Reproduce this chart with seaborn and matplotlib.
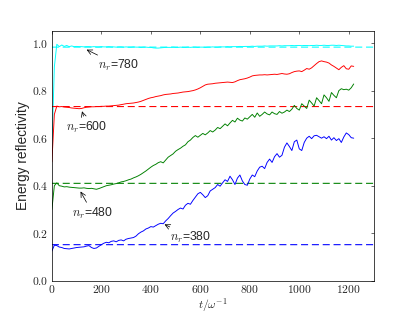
import numpy as np
import pandas as pd
import matplotlib
matplotlib.use("Agg")
import matplotlib.pyplot as plt
import seaborn as sns
from matplotlib.ticker import FuncFormatter

# sampling times of the reflectivity curves
t = np.arange(0, 1230, 10)

# n_r = 780 (cyan)
r780 = [0.55, 0.90, 0.995, 0.985, 0.992, 0.986, 0.990, 0.985, 0.988, 0.985,
        0.986, 0.985, 0.985, 0.984, 0.985, 0.985, 0.984, 0.985, 0.984, 0.984,
        0.985, 0.984, 0.984, 0.985, 0.984, 0.984, 0.983, 0.984, 0.984, 0.983,
        0.984, 0.983, 0.983, 0.984, 0.983, 0.983, 0.982, 0.983, 0.983, 0.982,
        0.982, 0.980, 0.979, 0.979, 0.980, 0.981, 0.982, 0.982, 0.982, 0.983,
        0.982, 0.982, 0.983, 0.982, 0.982, 0.983, 0.982, 0.983, 0.983, 0.982,
        0.983, 0.983, 0.982, 0.983, 0.983, 0.984, 0.983, 0.983, 0.984, 0.984,
        0.984, 0.985, 0.984, 0.985, 0.985, 0.985, 0.986, 0.985, 0.986, 0.986,
        0.986, 0.987, 0.986, 0.987, 0.987, 0.987, 0.988, 0.987, 0.988, 0.988,
        0.988, 0.988, 0.989, 0.988, 0.989, 0.989, 0.989, 0.990, 0.989, 0.990,
        0.990, 0.989, 0.990, 0.990, 0.989, 0.990, 0.990, 0.991, 0.990, 0.990,
        0.991, 0.990, 0.990, 0.991, 0.991, 0.990, 0.991, 0.990, 0.989, 0.988,
        0.988, 0.987, 0.987]

# n_r = 600 (red)
r600 = [0.50, 0.70, 0.735, 0.732, 0.733, 0.731, 0.730, 0.729, 0.727, 0.726,
        0.725, 0.724, 0.725, 0.728, 0.730, 0.731, 0.732, 0.732, 0.733, 0.733,
        0.734, 0.734, 0.735, 0.735, 0.736, 0.737, 0.738, 0.739, 0.741, 0.743,
        0.745, 0.746, 0.747, 0.748, 0.750, 0.752, 0.755, 0.759, 0.763, 0.767,
        0.770, 0.772, 0.775, 0.777, 0.779, 0.782, 0.784, 0.785, 0.786, 0.788,
        0.789, 0.790, 0.792, 0.794, 0.795, 0.796, 0.798, 0.800, 0.803, 0.807,
        0.812, 0.818, 0.824, 0.827, 0.828, 0.829, 0.831, 0.832, 0.833, 0.834,
        0.835, 0.836, 0.835, 0.834, 0.837, 0.842, 0.846, 0.848, 0.850, 0.853,
        0.857, 0.862, 0.864, 0.865, 0.866, 0.866, 0.867, 0.866, 0.867, 0.868,
        0.869, 0.868, 0.870, 0.872, 0.870, 0.869, 0.871, 0.876, 0.880, 0.882,
        0.883, 0.880, 0.886, 0.893, 0.890, 0.896, 0.905, 0.914, 0.922, 0.925,
        0.922, 0.920, 0.916, 0.908, 0.902, 0.895, 0.888, 0.898, 0.905, 0.892,
        0.890, 0.904, 0.902]

# n_r = 480 (green)
r480 = [0.30, 0.40, 0.412, 0.400, 0.398, 0.395, 0.396, 0.394, 0.393, 0.392,
        0.391, 0.390, 0.390, 0.391, 0.389, 0.388, 0.389, 0.387, 0.385, 0.388,
        0.392, 0.396, 0.400, 0.402, 0.404, 0.407, 0.409, 0.412, 0.416, 0.418,
        0.421, 0.425, 0.428, 0.433, 0.437, 0.442, 0.448, 0.455, 0.462, 0.470,
        0.478, 0.485, 0.490, 0.497, 0.501, 0.496, 0.508, 0.520, 0.527, 0.534,
        0.545, 0.552, 0.558, 0.566, 0.572, 0.585, 0.592, 0.603, 0.611, 0.604,
        0.612, 0.620, 0.614, 0.622, 0.632, 0.626, 0.634, 0.645, 0.640, 0.650,
        0.660, 0.652, 0.664, 0.675, 0.668, 0.684, 0.676, 0.672, 0.685, 0.680,
        0.690, 0.700, 0.688, 0.706, 0.692, 0.700, 0.710, 0.702, 0.698, 0.710,
        0.703, 0.700, 0.712, 0.705, 0.710, 0.718, 0.712, 0.722, 0.738, 0.725,
        0.718, 0.745, 0.735, 0.725, 0.760, 0.748, 0.735, 0.770, 0.758, 0.745,
        0.782, 0.770, 0.755, 0.792, 0.780, 0.770, 0.800, 0.808, 0.804, 0.806,
        0.802, 0.812, 0.828]

# n_r = 380 (blue)
r380 = [0.125, 0.150, 0.148, 0.142, 0.140, 0.136, 0.135, 0.134, 0.136, 0.138,
        0.140, 0.141, 0.142, 0.143, 0.146, 0.148, 0.140, 0.136, 0.138, 0.145,
        0.152, 0.158, 0.162, 0.160, 0.166, 0.168, 0.164, 0.170, 0.172, 0.168,
        0.175, 0.178, 0.180, 0.182, 0.188, 0.198, 0.205, 0.210, 0.218, 0.222,
        0.228, 0.226, 0.232, 0.238, 0.242, 0.240, 0.252, 0.262, 0.274, 0.285,
        0.292, 0.300, 0.306, 0.302, 0.318, 0.326, 0.322, 0.338, 0.352, 0.366,
        0.372, 0.362, 0.350, 0.358, 0.378, 0.385, 0.392, 0.405, 0.398, 0.412,
        0.425, 0.418, 0.440, 0.425, 0.405, 0.432, 0.445, 0.420, 0.405, 0.402,
        0.428, 0.445, 0.438, 0.462, 0.478, 0.482, 0.472, 0.498, 0.512, 0.498,
        0.522, 0.535, 0.520, 0.528, 0.562, 0.580, 0.565, 0.548, 0.585, 0.592,
        0.555, 0.548, 0.582, 0.600, 0.608, 0.598, 0.610, 0.612, 0.606, 0.600,
        0.606, 0.598, 0.608, 0.592, 0.602, 0.590, 0.598, 0.582, 0.605, 0.622,
        0.615, 0.602, 0.600]

labels = ["780", "600", "480", "380"]
colors = ["#00ffff", "#ff0000", "#008000", "#0000ff"]
levels = [0.983, 0.733, 0.41, 0.152]        # dashed reference levels
text_pos = [(268, 0.907), (142, 0.647), (164, 0.285), (560, 0.184)]
arrow_tip = [(135, 0.975), (120, 0.719), (113, 0.381), (450, 0.240)]

df = pd.DataFrame({"t": t, "780": r780, "600": r600, "480": r480, "380": r380})

sns.set_style("white")
plt.rcParams["font.family"] = ["Liberation Sans", "DejaVu Sans"]
plt.rcParams["mathtext.fontset"] = "cm"

fig = plt.figure(figsize=(415 / 52, 312 / 52), dpi=52)
ax = fig.add_axes([0.125, 0.1, 0.775, 0.8])

for lab, col, lev in zip(labels, colors, levels):
    sns.lineplot(data=df, x="t", y=lab, color=col, linewidth=1.3, ax=ax)
    ax.axhline(lev, color=col, linestyle=(0, (6.5, 3.5)), linewidth=1.5,
               snap=False)

for lab, tp, tip in zip(labels, text_pos, arrow_tip):
    ax.annotate(r"$n_r$=" + lab, xy=tip, xytext=tp, fontsize=17,
                ha="center", va="center",
                arrowprops=dict(arrowstyle="->", color="black", lw=1.0))

ax.set_xlim(0, 1300)
ax.set_ylim(0, 1.05)
ax.set_xticks([0, 200, 400, 600, 800, 1000, 1200])
ax.set_yticks([0.0, 0.2, 0.4, 0.6, 0.8, 1.0])
ax.xaxis.set_major_formatter(FuncFormatter(lambda v, p: r"$%d$" % v))
ax.yaxis.set_major_formatter(FuncFormatter(lambda v, p: r"$%.1f$" % v))
ax.tick_params(direction="in", top=True, right=True, length=4, width=0.8,
               labelsize=16, color="black", pad=5)
for s in ax.spines.values():
    s.set_color("black")
    s.set_linewidth(1.0)

ax.set_xlabel(r"$t/\omega^{-1}$", fontsize=16, labelpad=-1)
ax.set_ylabel("Energy reflectivity", fontsize=19, labelpad=3)

fig.savefig("out.png", dpi=52)
